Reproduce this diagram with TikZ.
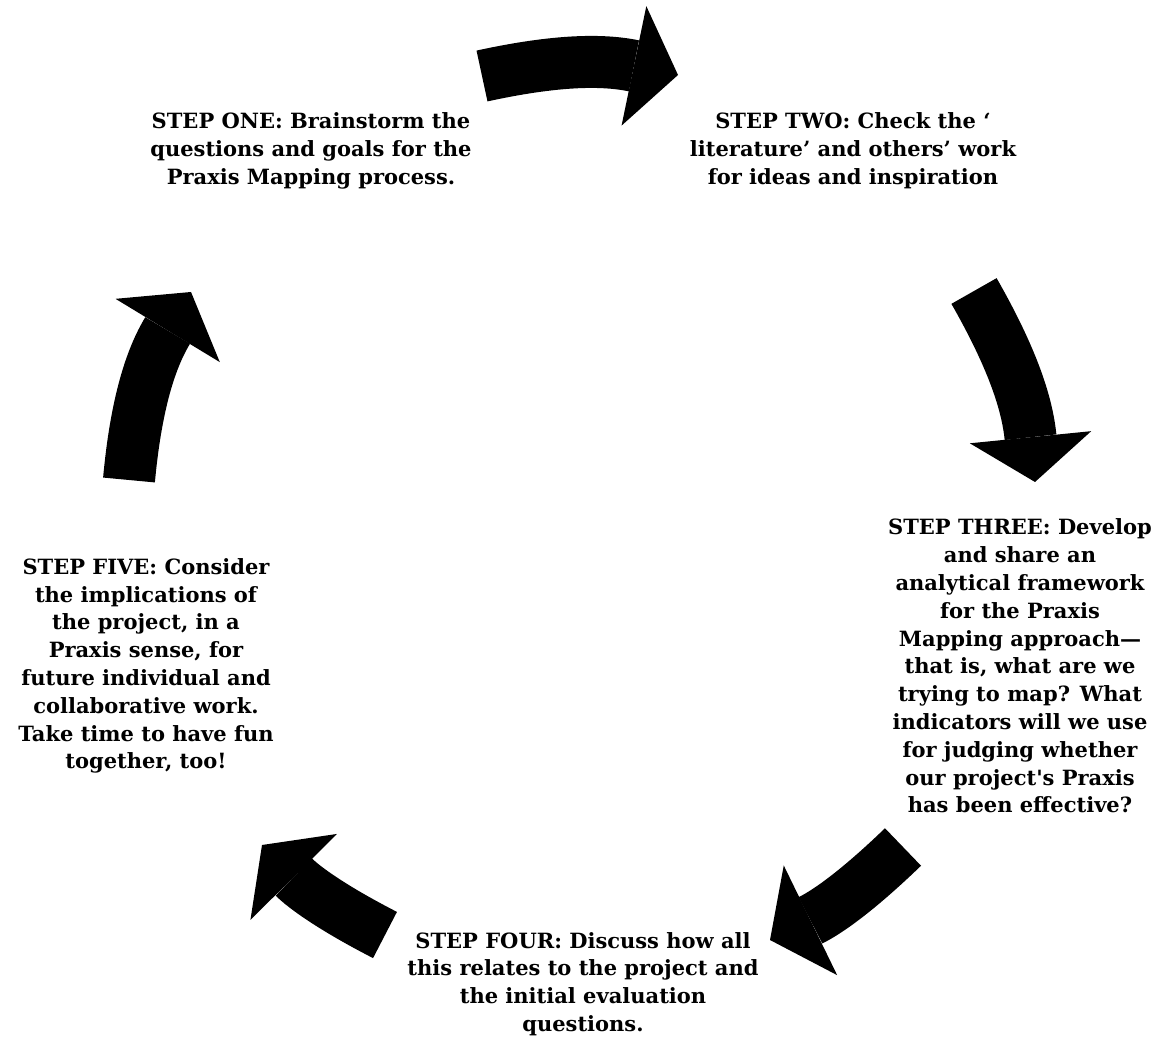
\documentclass[tikz,border=0pt]{standalone}
\usepackage{fontspec}
\setmainfont{DejaVu Serif}
\definecolor{stepInk}{HTML}{000000}
\usepackage{tikz}
\usetikzlibrary{arrows.meta}

\begin{document}
\begin{tikzpicture}[x=1pt, y=1pt,
  stepbox/.style={align=center, text=stepInk, inner sep=0pt,
    font=\bfseries\fontsize{21}{27.8}\selectfont},
  cyc/.style={line width=52pt, color=stepInk,
    -{Triangle[length=45pt, width=122pt, line width=0pt]}}
]
  \useasboundingbox (0,0) rectangle (1156,1037);

  \node[stepbox] (one) at (311,886) {STEP ONE: Brainstorm the\\questions and goals for the\\Praxis Mapping process.};
  \node[stepbox] (two) at (853,886) {STEP TWO: Check the ‘\\literature’ and others’ work\\for ideas and inspiration};
  \node[stepbox] (three) at (1020,371) {STEP THREE: Develop\\and share an\\analytical framework\\for the Praxis\\Mapping approach---\\that is, what are we\\trying to map? What\\indicators will we use\\for judging whether\\our project\textquotesingle s Praxis\\has been effective?};
  \node[stepbox] (four) at (583,53) {STEP FOUR: Discuss how all\\this relates to the project and\\the initial evaluation\\questions.};
  \node[stepbox] (five) at (146,371) {STEP FIVE: Consider\\the implications of\\the project, in a\\Praxis sense, for\\future individual and\\collaborative work.\\Take time to have fun\\together, too!};

  % arrow ends
  \coordinate (a1s) at (482,961);
  \coordinate (a1e) at (678,962);
  \coordinate (a2s) at (974,746);
  \coordinate (a2e) at (1035,555);
  \coordinate (a3s) at (903,190);
  \coordinate (a3e) at (770,97);
  \coordinate (a4s) at (385,102);
  \coordinate (a4e) at (262,192);
  \coordinate (a5s) at (129,557);
  \coordinate (a5e) at (191,745);

  \draw[cyc] (a1s) to[bend left=12] (a1e);
  \draw[cyc] (a2s) to[bend left=12] (a2e);
  \draw[cyc] (a3s) to[bend left=9] (a3e);
  \draw[cyc] (a4s) to[bend left=9] (a4e);
  \draw[cyc] (a5s) to[bend left=13] (a5e);
\end{tikzpicture}
\end{document}
